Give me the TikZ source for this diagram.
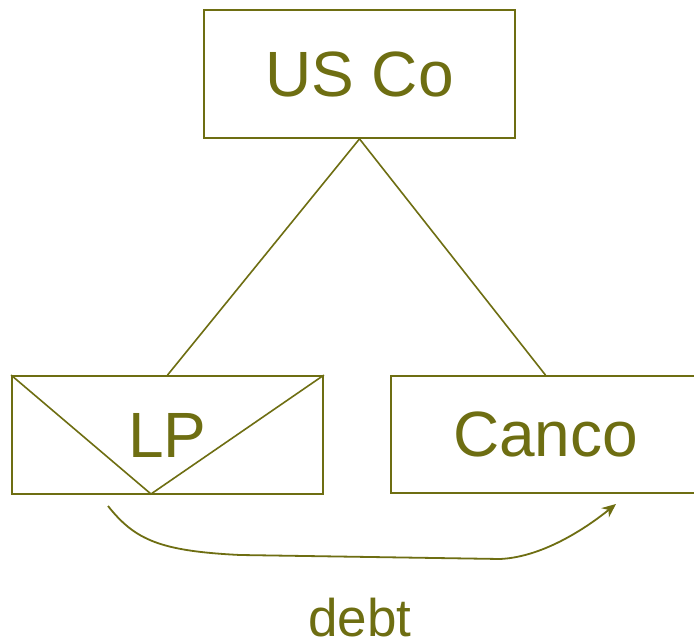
\documentclass[tikz,border=0pt]{standalone}
\usepackage{fontspec}
\setmainfont{Liberation Sans}
\usetikzlibrary{arrows.meta}
\definecolor{olivetext}{RGB}{110,110,18}
\tikzset{
  entity/.style={draw=olivetext, line width=1.8pt, fill=none, inner sep=0pt,
    text=olivetext, font=\fontsize{64}{77}\selectfont},
  link/.style={draw=olivetext, line width=1.6pt},
  flow/.style={draw=olivetext, line width=1.8pt, -{Stealth[length=14pt,width=12pt]}},
  caption/.style={text=olivetext, font=\fontsize{53}{64}\selectfont, inner sep=0pt}
}
\begin{document}
\begin{tikzpicture}[x=1pt,y=-1pt]
  \useasboundingbox (0,0) rectangle (694,639);
  \fill[white] (0,0) rectangle (694,639);

  % entities
  \node[entity, minimum width=311pt, minimum height=128pt] (usco) at (359.5,74) {US Co};
  \node[entity, minimum width=311pt, minimum height=118pt] (lp) at (167.5,435) {LP};
  \node[entity, minimum width=309pt, minimum height=117pt] (canco) at (545.5,434.5) {Canco};

  % partnership marker inside LP
  \coordinate (lpv) at (151,494);
  \draw[link] (lp.north west) -- (lpv) -- (lp.north east);

  % ownership lines
  \draw[link] (usco.south) -- (lp.north);
  \draw[link] (usco.south) -- (canco.north);

  % debt flow
  \coordinate (dstart) at (108,506);
  \coordinate (dmid1) at (240,555);
  \coordinate (dmid2) at (500,559);
  \coordinate (dend) at (616,504);
  \draw[flow] (dstart) .. controls (135,540) and (160,551) .. (dmid1)
    -- (dmid2) .. controls (545,557) and (590,525) .. (dend);

  \node[caption] (debt) at (360,618) {debt};
\end{tikzpicture}
\end{document}
